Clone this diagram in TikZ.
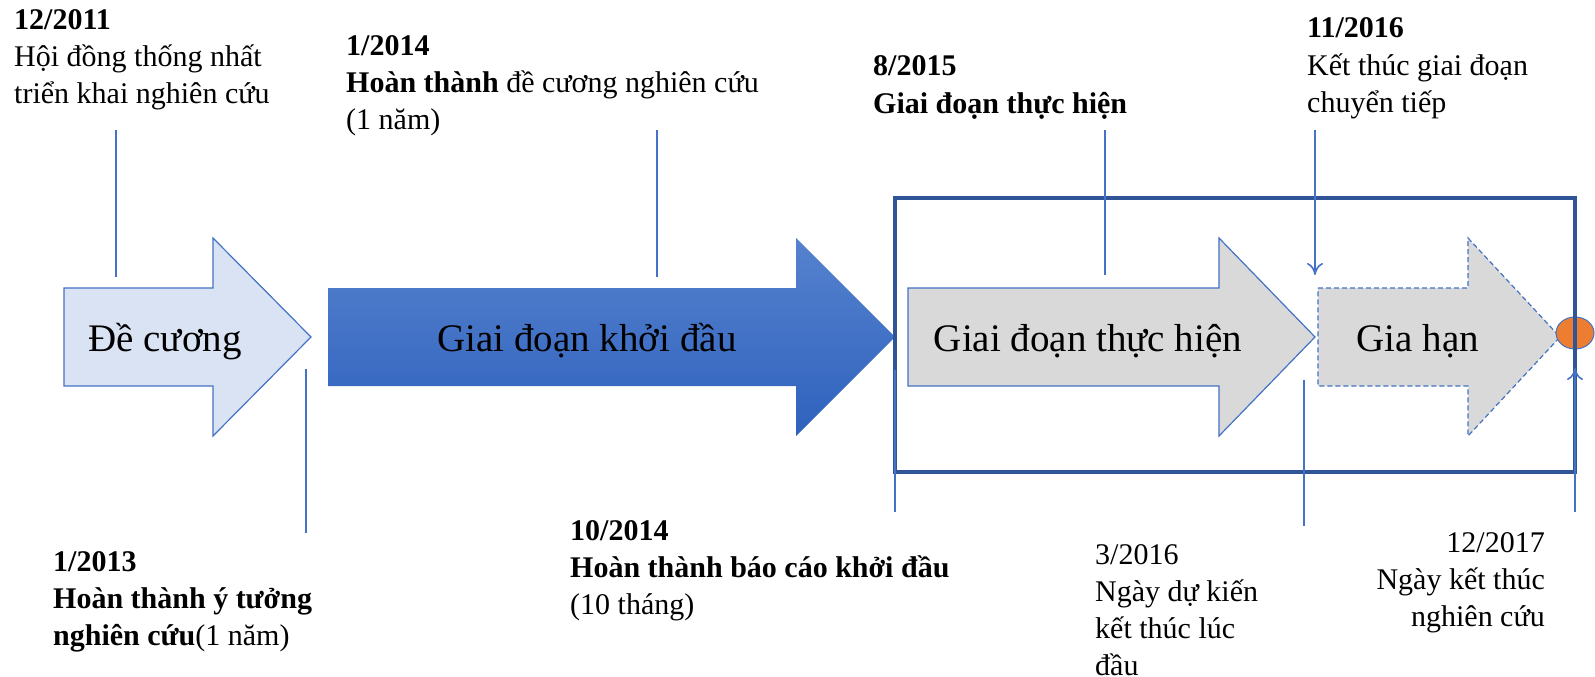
\documentclass[tikz,border=0pt]{standalone}
\usepackage{fontspec}
\setmainfont{Liberation Serif}
\usetikzlibrary{arrows.meta,shapes.geometric}
\definecolor{lineblue}{HTML}{4472C4}
\definecolor{boxblue}{HTML}{2F5597}
\definecolor{lightblue}{HTML}{DAE3F3}
\definecolor{grayfill}{HTML}{D9D9D9}
\definecolor{orangefill}{HTML}{ED7D31}
\definecolor{gradtop}{HTML}{5682CE}
\definecolor{gradbot}{HTML}{2F62BE}
\begin{document}
\begin{tikzpicture}[x=1pt,y=-1pt,
  lbl/.style={inner sep=0pt, font=\fontsize{30}{37}\selectfont, align=left, anchor=base west},
  lblr/.style={inner sep=0pt, font=\fontsize{30}{37}\selectfont, align=right, anchor=base east},
  big/.style={inner sep=0pt, font=\fontsize{39}{45}\selectfont, anchor=base},
  tickline/.style={draw=lineblue, line width=2.6pt},
  thinarrow/.style={draw=lineblue, line width=1.6pt, -{To[length=12pt,width=16pt,line width=1.6pt]}},
  stageA/.style={fill=lightblue, draw=lineblue, line width=1.2pt, line join=miter},
  stageB/.style={top color=gradtop, bottom color=gradbot, draw=none},
  stageC/.style={fill=grayfill, draw=lineblue, line width=1.2pt, line join=miter},
  stageD/.style={fill=grayfill, draw=lineblue, line width=1.2pt, dash pattern=on 5pt off 3pt},
  frame/.style={draw=boxblue, line width=4pt}
]
\useasboundingbox (0,0) rectangle (1595,677);

% stage arrows
\path[stageA] (64,288) -- (213,288) -- (213,238) -- (311,337) -- (213,436) -- (213,386) -- (64,386) -- cycle;
\path[stageB] (328,288) -- (796,288) -- (796,238) -- (895,337) -- (796,436) -- (796,386) -- (328,386) -- cycle;
\path[stageC] (908,288) -- (1219,288) -- (1219,238) -- (1315,337) -- (1219,436) -- (1219,386) -- (908,386) -- cycle;
\path[stageD] (1318,288) -- (1468,288) -- (1468,238) -- (1560,337) -- (1468,436) -- (1468,386) -- (1318,386) -- cycle;

\node[big] (a1) at (165,351) {Đề cương};
\node[big] (a2) at (587,351) {Giai đoạn khởi đầu};
\node[big] (a3) at (1088,351) {Giai đoạn thực hiện};
\node[big] (a4) at (1418,351) {Gia hạn};

% end marker
\node[ellipse, draw=lineblue, line width=1pt, fill=orangefill, minimum width=38pt, minimum height=32pt, inner sep=0pt] (endmark) at (1575,333) {};

% outer frame
\draw[frame] (895,198) rectangle (1575,472);

% labels (anchored at the baseline of the last line)
\node[lbl] (l1) at (14,103.5) {\textbf{12/2011}\\Hội đồng thống nhất\\triển khai nghiên cứu};
\node[lbl] (l2) at (53,645) {\textbf{1/2013}\\\textbf{Hoàn thành ý tưởng}\\\textbf{nghiên cứu}(1 năm)};
\node[lbl] (l3) at (346,129) {\textbf{1/2014}\\\textbf{Hoàn thành} đề cương nghiên cứu\\(1 năm)};
\node[lbl] (l4) at (570,614) {\textbf{10/2014}\\\textbf{Hoàn thành báo cáo khởi đầu}\\(10 tháng)};
\node[lbl] (l5) at (873,113) {\textbf{8/2015}\\\textbf{Giai đoạn thực hiện}};
\node[lbl] (l6) at (1307,112) {\textbf{11/2016}\\Kết thúc giai đoạn\\chuyển tiếp};
\node[lbl] (l7) at (1095,675) {3/2016\\Ngày dự kiến\\kết thúc lúc\\đầu};
\node[lblr] (l8) at (1545,626) {12/2017\\Ngày kết thúc\\nghiên cứu};

% tick lines
\coordinate (t1a) at (116,130); \coordinate (t1b) at (116,277);
\coordinate (t2a) at (306,369); \coordinate (t2b) at (306,533);
\coordinate (t3a) at (657,130); \coordinate (t3b) at (657,277);
\coordinate (t4a) at (1105,130); \coordinate (t4b) at (1105,275);
\coordinate (t5a) at (1315,130); \coordinate (t5b) at (1315,275);
\coordinate (t6a) at (1575,512); \coordinate (t6b) at (1575,368);
\coordinate (t7a) at (895,370); \coordinate (t7b) at (895,512);
\coordinate (t8a) at (1304,380); \coordinate (t8b) at (1304,526);

\draw[tickline] (t1a) -- (t1b);
\draw[tickline] (t2a) -- (t2b);
\draw[tickline] (t3a) -- (t3b);
\draw[tickline] (t4a) -- (t4b);
\draw[tickline] (t7a) -- (t7b);
\draw[tickline] (t8a) -- (t8b);
\draw[thinarrow] (t5a) -- (t5b);
\draw[thinarrow] (t6a) -- (t6b);
\end{tikzpicture}
\end{document}
